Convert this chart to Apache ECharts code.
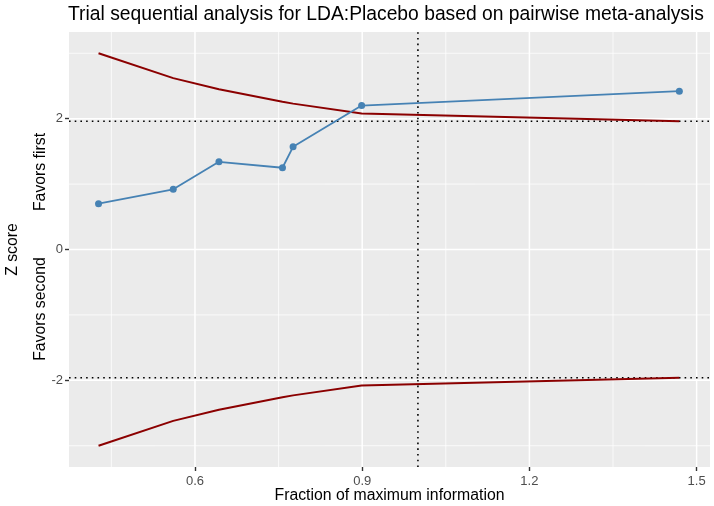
<!DOCTYPE html>
<html>
<head>
<meta charset="utf-8">
<script src="https://cdn.jsdelivr.net/npm/echarts@6/dist/echarts.min.js"></script>
<style>
html,body{margin:0;padding:0;background:#fff;}
#chart{width:714px;height:506px;}
</style>
</head>
<body>
<div id="chart"></div>
<script>
// ---- data ----
const titleText = "Trial sequential analysis for LDA:Placebo based on pairwise meta-analysis";
const xTicks = [0.6, 0.9, 1.2, 1.5];
const xMinor = [0.45, 0.75, 1.05, 1.35];
const yTicks = [-2, 0, 2];
const yMinor = [-3, -1, 1, 3];
const info = [0.427, 0.561, 0.643, 0.757, 0.776, 0.899, 1.469];
const zScore = [0.70, 0.92, 1.34, 1.25, 1.57, 2.20, 2.42];
const upperBound = [3.00, 2.62, 2.45, 2.26, 2.23, 2.08, 1.96];
const lowerBound = [-3.00, -2.62, -2.45, -2.26, -2.23, -2.08, -1.96];
const zCrit = [1.96, -1.96];
const requiredInfo = [1.0];
const xRange = [0.374, 1.524];
const yRange = [-3.325, 3.325];

const pairs = (xs, ys) => xs.map((x, i) => [x, ys[i]]);
// vertical / horizontal rule segments built from tick values and axis range
const vRules = vals => vals.flatMap(v => [[v, yRange[0]], [v, yRange[1]], [v, '-']]);
const hRules = vals => vals.flatMap(v => [[xRange[0], v], [xRange[1], v], ['-', v]]);

const ruleSeries = (data, style, z) => ({
  type: 'line', data: data, z: z, silent: true, symbol: 'none', showSymbol: false,
  connectNulls: false, clip: true, lineStyle: style, emphasis: {disabled: true}, tooltip: {show: false}
});

const chart = echarts.init(document.getElementById('chart'));
const FONT = "'Liberation Sans', Arial, sans-serif";
const majorStyle = {color: '#ffffff', width: 1.5, type: 'solid'};
const minorStyle = {color: '#ffffff', width: 0.75, type: 'solid'};
const dotStyle = {color: '#000000', width: 1.6, type: [1.6, 4.1]};

chart.setOption({
  animation: false,
  backgroundColor: '#fff',
  textStyle: {fontFamily: FONT},
  grid: {left: 69, right: 4, top: 32, bottom: 39, show: true, backgroundColor: '#EBEBEB', borderWidth: 0, containLabel: false},
  xAxis: {
    type: 'value', min: xRange[0], max: xRange[1],
    axisLine: {show: false, onZero: false},
    axisTick: {show: true, customValues: xTicks, length: 4, lineStyle: {color: '#333', width: 1.4}},
    axisLabel: {customValues: xTicks, color: '#4D4D4D', fontSize: 13, margin: 8, fontFamily: FONT,
      formatter: v => v.toFixed(1)},
    splitLine: {show: false}
  },
  yAxis: {
    type: 'value', min: yRange[0], max: yRange[1],
    axisLine: {show: false, onZero: false},
    axisTick: {show: true, customValues: yTicks, length: 4, lineStyle: {color: '#333', width: 1.4}},
    axisLabel: {customValues: yTicks, color: '#4D4D4D', fontSize: 13, margin: 6, fontFamily: FONT},
    splitLine: {show: false}
  },
  graphic: [
    {type: 'text', x: 68, y: 15, style: {text: titleText, fontSize: 19.3, fontFamily: FONT, fill: '#000', textAlign: 'left', textVerticalAlign: 'middle'}},
    {type: 'text', x: 389.5, y: 496, style: {text: 'Fraction of maximum information', fontSize: 15.8, fontFamily: FONT, fill: '#000', textAlign: 'center', textVerticalAlign: 'middle'}},
    {type: 'text', x: 13, y: 249.5, rotation: Math.PI / 2, style: {text: 'Z score', fontSize: 15.8, fontFamily: FONT, fill: '#000', textAlign: 'center', textVerticalAlign: 'middle'}},
    {type: 'text', x: 41, y: 172, rotation: Math.PI / 2, style: {text: 'Favors first', fontSize: 15.8, fontFamily: FONT, fill: '#000', textAlign: 'center', textVerticalAlign: 'middle'}},
    {type: 'text', x: 41, y: 309, rotation: Math.PI / 2, style: {text: 'Favors second', fontSize: 15.8, fontFamily: FONT, fill: '#000', textAlign: 'center', textVerticalAlign: 'middle'}}
  ],
  series: [
    ruleSeries(vRules(xMinor), minorStyle, 1),
    ruleSeries(hRules(yMinor), minorStyle, 1),
    ruleSeries(vRules(xTicks), majorStyle, 1),
    ruleSeries(hRules(yTicks), majorStyle, 1),
    ruleSeries(vRules(requiredInfo), dotStyle, 2),
    ruleSeries(hRules(zCrit), dotStyle, 2),
    {
      type: 'line', name: 'upper', data: pairs(info, upperBound), z: 3, showSymbol: false, symbol: 'none',
      lineStyle: {color: '#8B0000', width: 2}, itemStyle: {color: '#8B0000'}
    },
    {
      type: 'line', name: 'lower', data: pairs(info, lowerBound), z: 3, showSymbol: false, symbol: 'none',
      lineStyle: {color: '#8B0000', width: 2}, itemStyle: {color: '#8B0000'}
    },
    {
      type: 'line', name: 'z', data: pairs(info, zScore), z: 5, symbol: 'circle', symbolSize: 7,
      lineStyle: {color: '#4682B4', width: 1.8}, itemStyle: {color: '#4682B4'}
    }
  ]
});
</script>
</body>
</html>
